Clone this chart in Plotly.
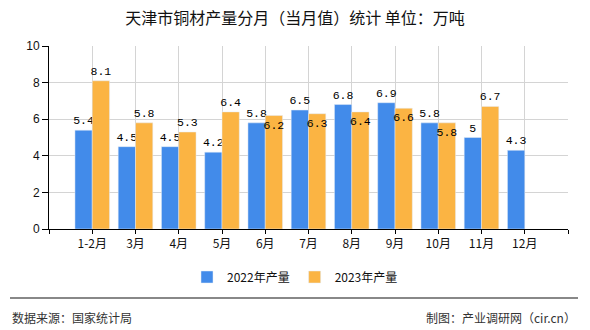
import plotly.graph_objects as go

categories = ["1-2月", "3月", "4月", "5月", "6月", "7月", "8月", "9月", "10月", "11月", "12月"]
values_2022 = [5.4, 4.5, 4.5, 4.2, 5.8, 6.5, 6.8, 6.9, 5.8, 5, 4.3]
values_2023 = [8.1, 5.8, 5.3, 6.4, 6.2, 6.3, 6.4, 6.6, 5.8, 6.7, None]
label_pos_2023 = ["outside", "outside", "outside", "outside", "inside", "inside",
                  "inside", "inside", "inside", "outside", "outside"]
series_names = ["2022年产量", "2023年产量"]
y_ticks = [0, 2, 4, 6, 8, 10]

W, H = 590, 330
L, R, T, B = 49, 22, 46, 101
PW, PH = W - L - R, H - T - B

def px_x(px):
    return (px - L) / PW

def px_y(py):
    return (H - B - py) / PH

xs = list(range(len(categories)))
MONO = "Liberation Mono, Noto Sans CJK SC"
SANS = "Liberation Sans, Noto Sans CJK SC"
CJK = "Noto Sans CJK SC"

fig = go.Figure()
fig.add_trace(go.Bar(
    x=xs, y=values_2022, name=series_names[0], marker_color="#428BEA",
    text=[str(v) for v in values_2022], textposition="outside", textangle=0,
    textfont=dict(family=MONO, size=11.5, color="#000"),
    cliponaxis=False, constraintext="none",
))
fig.add_trace(go.Bar(
    x=xs, y=values_2023, name=series_names[1], marker_color="#FBB443",
    text=["" if v is None else str(v) for v in values_2023], textposition=label_pos_2023,
    insidetextanchor="end", textangle=0,
    textfont=dict(family=MONO, size=11.5, color="#000"),
    insidetextfont=dict(family=MONO, size=11.5, color="#000"),
    outsidetextfont=dict(family=MONO, size=11.5, color="#000"),
    cliponaxis=False, constraintext="none",
))

tickvals = [-1] + xs + [len(categories)]
ticktext = [""] + categories + [""]

fig.update_layout(
    width=W, height=H,
    margin=dict(l=L, r=R, t=T, b=B),
    paper_bgcolor="#fff", plot_bgcolor="#fff",
    barmode="group", bargap=0.2, bargroupgap=0,
    title=dict(text="天津市铜材产量分月（当月值）统计 单位：万吨",
               x=0.5, xref="container", xanchor="center",
               y=1 - 18 / H, yref="container", yanchor="middle",
               font=dict(family=CJK, size=16, color="#111")),
    xaxis=dict(range=[-1, len(categories)], tickmode="array", tickvals=tickvals, ticktext=ticktext,
               showgrid=True, gridcolor="#d4d4d4", gridwidth=1, zeroline=False,
               showline=True, linecolor="#000", linewidth=1,
               ticks="outside", ticklen=4, tickcolor="#000",
               tickfont=dict(family=CJK, size=12, color="#111")),
    yaxis=dict(range=[0, 10], tickmode="array", tickvals=y_ticks,
               showgrid=True, gridcolor="#d4d4d4", gridwidth=1, zeroline=False,
               showline=True, linecolor="#000", linewidth=1,
               ticks="outside", ticklen=6, tickcolor="#000",
               tickfont=dict(family=SANS, size=12, color="#111")),
    legend=dict(orientation="h", x=0.5, xref="container", xanchor="center",
                y=1 - 277 / H, yref="container", yanchor="middle",
                font=dict(family=CJK, size=12, color="#111"),
                itemwidth=30, traceorder="normal"),
    showlegend=True,
)

fig.add_shape(type="line", xref="paper", yref="paper",
              x0=px_x(10), x1=px_x(578), y0=px_y(298), y1=px_y(298),
              line=dict(color="#888", width=2))
fig.add_annotation(text="数据来源：国家统计局", xref="paper", yref="paper",
                   x=px_x(10), y=px_y(317), xanchor="left", yanchor="middle",
                   showarrow=False, font=dict(family=CJK, size=12, color="#333"))
fig.add_annotation(text="制图：产业调研网（cir.cn）", xref="paper", yref="paper",
                   x=px_x(578), y=px_y(317), xanchor="right", yanchor="middle",
                   showarrow=False, font=dict(family=CJK, size=12, color="#333"))

fig.write_html("out.html")
